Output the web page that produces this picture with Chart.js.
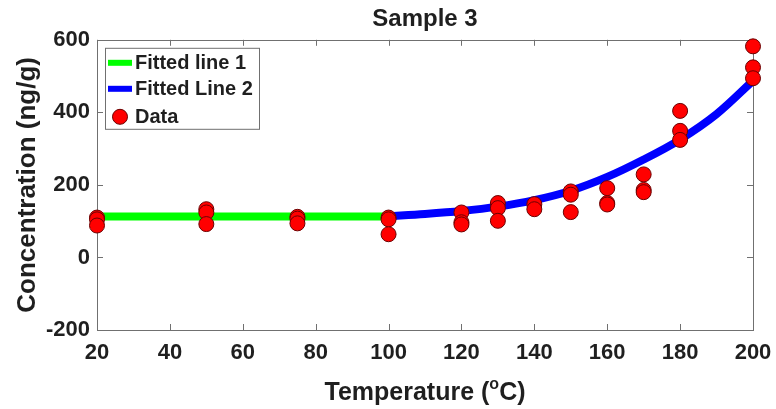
<!DOCTYPE html>
<html>
<head>
<meta charset="utf-8">
<script src="https://cdn.jsdelivr.net/npm/chart.js@4.4.1/dist/chart.umd.min.js"></script>
<style>
  html, body { margin: 0; padding: 0; background: #fff; }
  #wrap { width: 776px; height: 409px; }
</style>
</head>
<body>
<div id="wrap"><canvas id="chart" width="776" height="409"></canvas></div>
<script>
// measured points, temperature (C) vs concentration (ng/g)
var DATA_TEMP = [20, 20, 20, 50, 50, 50, 75, 75, 75, 100, 100, 100,
                 120, 120, 120, 130, 130, 130, 140, 140, 150, 150, 150,
                 160, 160, 160, 170, 170, 170, 180, 180, 180, 200, 200, 200];
var DATA_CONC = [110, 105, 88, 133, 124, 92, 112, 107, 94, 110, 105, 64,
                 124, 97, 91, 150, 136, 101, 147, 133, 182, 173, 125,
                 191, 150, 146, 229, 186, 180, 404, 349, 324, 582, 524, 494];

// fitted curves
var FIT1_TEMP = [20, 100];
var FIT1_CONC = [113, 113];
var FIT2_TEMP = [100, 110, 120, 130, 140, 150, 160, 170, 180, 190, 200];
var FIT2_CONC = [114, 120, 128, 140, 158, 184, 222, 270, 325, 395, 487];

var X_TICKS = [20, 40, 60, 80, 100, 120, 140, 160, 180, 200];
var Y_TICKS = [-200, 0, 200, 400, 600];

var LABELS = ['Fitted line 1', 'Fitted Line 2', 'Data'];
var TITLE = 'Sample 3';
var Y_TITLE = 'Concentration (ng/g)';

var FONT = "'Liberation Sans', Arial, sans-serif";
var TEXT_COLOR = '#1f1f1f';
var AXIS_COLOR = '#707070';

function toXY(xs, ys) {
    return xs.map(function (x, i) { return {x: x, y: ys[i]}; });
}

// box around the plot with inward ticks on all four sides (matlab look)
var boxPlugin = {
    id: 'boxAxes',
    beforeDatasetsDraw: function (chart) {
        var ctx = chart.ctx, a = chart.chartArea;
        var xs = chart.scales.x, ys = chart.scales.y;
        var len = 6;
        ctx.save();
        ctx.strokeStyle = AXIS_COLOR;
        ctx.lineWidth = 1;
        ctx.strokeRect(Math.round(a.left) + 0.5, Math.round(a.top) + 0.5,
            Math.round(a.right - a.left), Math.round(a.bottom - a.top));
        ctx.beginPath();
        X_TICKS.forEach(function (v) {
            var px = Math.round(xs.getPixelForValue(v)) + 0.5;
            ctx.moveTo(px, a.bottom); ctx.lineTo(px, a.bottom - len);
            ctx.moveTo(px, a.top); ctx.lineTo(px, a.top + len);
        });
        Y_TICKS.forEach(function (v) {
            var py = Math.round(ys.getPixelForValue(v)) + 0.5;
            ctx.moveTo(a.left, py); ctx.lineTo(a.left + len, py);
            ctx.moveTo(a.right, py); ctx.lineTo(a.right - len, py);
        });
        ctx.stroke();
        ctx.restore();
    }
};

// legend box in the upper left corner of the plot
var legendPlugin = {
    id: 'insideLegend',
    afterDatasetsDraw: function (chart) {
        var ctx = chart.ctx, a = chart.chartArea;
        var x0 = a.left + 8, y0 = a.top + 8, w = 154, h = 81;
        var rows = [y0 + 15, y0 + 41, y0 + 69];
        ctx.save();
        ctx.fillStyle = '#fff';
        ctx.fillRect(x0, y0, w, h);
        ctx.strokeStyle = AXIS_COLOR;
        ctx.lineWidth = 1;
        ctx.strokeRect(x0 + 0.5, y0 + 0.5, w, h);
        chart.data.datasets.forEach(function (ds, i) {
            var yy = rows[i];
            if (ds.showLine === false) {
                ctx.beginPath();
                ctx.arc(x0 + 15, yy, 7.5, 0, Math.PI * 2);
                ctx.fillStyle = ds.pointBackgroundColor;
                ctx.fill();
                ctx.strokeStyle = ds.pointBorderColor;
                ctx.lineWidth = 1;
                ctx.stroke();
            } else {
                ctx.fillStyle = ds.borderColor;
                ctx.fillRect(x0 + 3, yy - 3, 24, 6);
            }
            ctx.fillStyle = TEXT_COLOR;
            ctx.font = 'bold 20px ' + FONT;
            ctx.textBaseline = 'middle';
            ctx.textAlign = 'left';
            ctx.fillText(ds.label, x0 + 30, yy + 1);
        });
        ctx.restore();
    }
};

// x axis title with a raised "o" for degrees
var xTitlePlugin = {
    id: 'xTitle',
    afterDraw: function (chart) {
        var ctx = chart.ctx, a = chart.chartArea;
        var big = 'bold 25px ' + FONT, small = 'bold 16px ' + FONT;
        var p1 = 'Temperature (', p2 = 'o', p3 = 'C)';
        ctx.save();
        ctx.fillStyle = TEXT_COLOR;
        ctx.textBaseline = 'alphabetic';
        ctx.textAlign = 'left';
        ctx.font = big;
        var w1 = ctx.measureText(p1).width, w3 = ctx.measureText(p3).width;
        ctx.font = small;
        var w2 = ctx.measureText(p2).width;
        var x = (a.left + a.right) / 2 - (w1 + w2 + w3) / 2;
        var base = 400;
        ctx.font = big;
        ctx.fillText(p1, x, base);
        ctx.font = small;
        ctx.fillText(p2, x + w1, base - 11);
        ctx.font = big;
        ctx.fillText(p3, x + w1 + w2, base);
        ctx.restore();
    }
};

new Chart(document.getElementById('chart'), {
    type: 'scatter',
    data: {
        datasets: [{
            label: LABELS[0],
            data: toXY(FIT1_TEMP, FIT1_CONC),
            showLine: true,
            borderColor: '#00ff00',
            borderWidth: 8,
            borderCapStyle: 'butt',
            pointRadius: 0,
            order: 2
        }, {
            label: LABELS[1],
            data: toXY(FIT2_TEMP, FIT2_CONC),
            showLine: true,
            borderColor: '#0000ff',
            borderWidth: 8,
            borderCapStyle: 'butt',
            cubicInterpolationMode: 'monotone',
            pointRadius: 0,
            order: 1
        }, {
            label: LABELS[2],
            data: toXY(DATA_TEMP, DATA_CONC),
            showLine: false,
            pointRadius: 7.5,
            pointBorderWidth: 1,
            pointBackgroundColor: '#ff0000',
            pointBorderColor: '#6b0000',
            clip: false,
            order: 0
        }]
    },
    options: {
        responsive: false,
        animation: false,
        devicePixelRatio: 1,
        layout: {padding: {left: 0, right: 23, top: 0, bottom: 0}},
        plugins: {
            legend: {display: false},
            tooltip: {enabled: false},
            title: {
                display: true,
                fullSize: false,
                text: TITLE,
                color: TEXT_COLOR,
                font: {family: FONT, size: 24, weight: 'bold'},
                padding: {top: 5, bottom: 6}
            }
        },
        scales: {
            x: {
                type: 'linear',
                min: 20,
                max: 200,
                afterBuildTicks: function (s) { s.ticks = X_TICKS.map(function (v) { return {value: v}; }); },
                afterFit: function (s) {
                    s.height = 79;
                    // the end labels fit inside the padding, no extra margin needed
                    s.paddingLeft = 0;
                    s.paddingRight = 0;
                },
                grid: {display: false, drawTicks: false},
                border: {display: false},
                ticks: {
                    color: TEXT_COLOR,
                    padding: 10,
                    maxRotation: 0,
                    font: {family: FONT, size: 22, weight: 'bold'}
                },
                title: {display: false}
            },
            y: {
                type: 'linear',
                min: -200,
                max: 600,
                afterBuildTicks: function (s) { s.ticks = Y_TICKS.map(function (v) { return {value: v}; }); },
                afterFit: function (s) {
                    s.width = 97;
                    s.paddingTop = 0;
                    s.paddingBottom = 0;
                },
                grid: {display: false, drawTicks: false},
                border: {display: false},
                ticks: {
                    color: TEXT_COLOR,
                    padding: 7,
                    font: {family: FONT, size: 22, weight: 'bold'}
                },
                title: {
                    display: true,
                    text: Y_TITLE,
                    color: TEXT_COLOR,
                    padding: {top: 12, bottom: 0},
                    font: {family: FONT, size: 26, weight: 'bold'}
                }
            }
        }
    },
    plugins: [boxPlugin, legendPlugin, xTitlePlugin]
});
</script>
</body>
</html>
